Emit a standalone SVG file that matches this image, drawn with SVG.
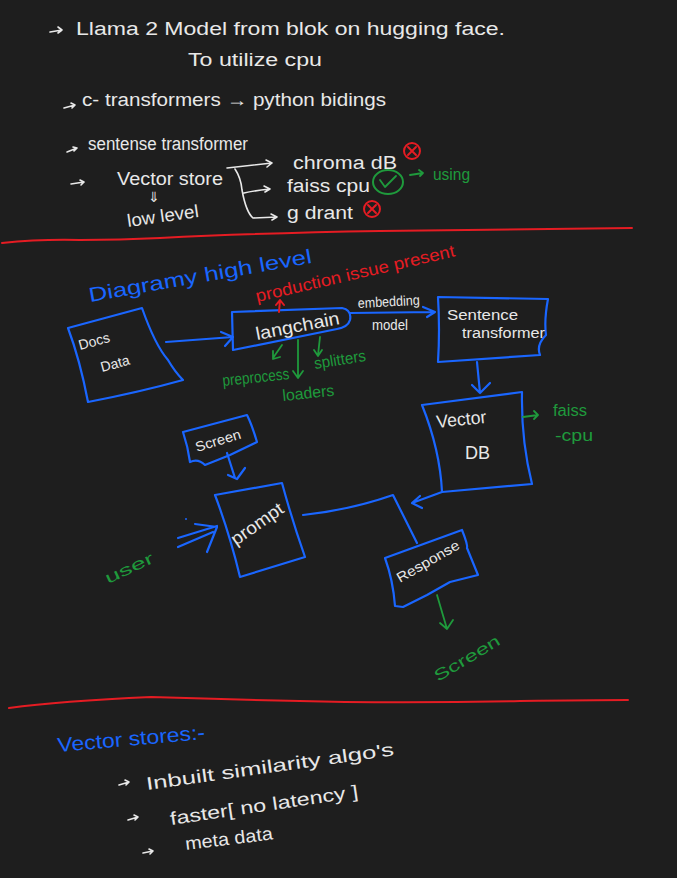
<svg xmlns="http://www.w3.org/2000/svg" width="677" height="878" viewBox="0 0 677 878">
<defs>
<style>
.bg{fill:#1e1e1e}
.w{fill:#e8e8e8;font-family:"Liberation Sans",Arial,sans-serif;font-size:18px}
.ws{fill:#e8e8e8;font-family:"Liberation Sans",Arial,sans-serif;font-size:14px}
.g{fill:#1f9a3c;font-family:"Liberation Sans",Arial,sans-serif;font-size:16px}
.b{fill:#1a66ff;font-family:"Liberation Sans",Arial,sans-serif;font-size:20px}
.r{fill:#e51c23;font-family:"Liberation Sans",Arial,sans-serif;font-size:17px}
.box{fill:none;stroke:#1a66ff;stroke-width:2.2;stroke-linejoin:round;stroke-linecap:round}
.bl{fill:none;stroke:#1a66ff;stroke-width:2.2;stroke-linecap:round;stroke-linejoin:round}
.wl{fill:none;stroke:#e8e8e8;stroke-width:1.6;stroke-linecap:round;stroke-linejoin:round}
.gl{fill:none;stroke:#1f9a3c;stroke-width:1.8;stroke-linecap:round;stroke-linejoin:round}
.rl{fill:none;stroke:#e51c23;stroke-width:2;stroke-linecap:round;stroke-linejoin:round}
</style>
</defs>
<rect class="bg" x="0" y="0" width="677" height="878"/>

<g id="notes-top">
<path class="wl" d="M50 32 L62 30 M58 27 L62 30 L58 33"/>
<text class="w" x="76" y="35" font-size="20" textLength="429" lengthAdjust="spacingAndGlyphs">Llama 2 Model  from blok  on hugging face.</text>
<text class="w" x="188" y="66" textLength="134" lengthAdjust="spacingAndGlyphs">To utilize cpu</text>
<path class="wl" d="M64 108 L75 105 M71 103 L75 105 L72 108"/>
<text class="w" x="82" y="106" font-size="19" textLength="304" lengthAdjust="spacingAndGlyphs">c- transformers →  python bidings</text>
<path class="wl" d="M67 152 L77 148 M73 147 L77 148 L74 151"/>
<text class="w" x="88" y="150" textLength="160" lengthAdjust="spacingAndGlyphs">sentense transformer</text>
<path class="wl" d="M71 184 L84 182 M80 180 L84 182 L81 185"/>
<text class="w" x="117" y="185" textLength="106" lengthAdjust="spacingAndGlyphs">Vector  store</text>
<text class="ws" x="148" y="202">⇓</text>
<text class="w" x="128" y="227" textLength="72" lengthAdjust="spacingAndGlyphs" transform="rotate(-8 128 227)">low level</text>
<path class="wl" d="M227 168 L272 163 M266 160 L272 163 L267 167 M235 169 Q241 178 242 190 Q246 212 253 218 L277 217 M271 214 L277 217 L272 220 M244 193 Q252 191 270 189 M264 186 L270 189 L265 192"/>
<text class="w" x="293" y="169" textLength="104" lengthAdjust="spacingAndGlyphs">chroma dB</text>
<circle cx="412" cy="151" r="8" fill="none" stroke="#e51c23" stroke-width="2"/>
<path class="rl" d="M408 147 L416 155 M416 147 L408 155"/>
<text class="w" x="287" y="192" textLength="83" lengthAdjust="spacingAndGlyphs">faiss cpu</text>
<ellipse cx="388" cy="182" rx="15" ry="12" fill="none" stroke="#1f9a3c" stroke-width="2"/>
<path class="gl" d="M380 180 L385 187 L396 176"/>
<path class="gl" d="M410 175 L423 173 M419 170 L423 173 L420 176"/>
<text class="g" x="433" y="180" textLength="37" lengthAdjust="spacingAndGlyphs">using</text>
<text class="w" x="287" y="219" textLength="66" lengthAdjust="spacingAndGlyphs">g drant</text>
<circle cx="372" cy="209" r="8" fill="none" stroke="#e51c23" stroke-width="2"/>
<path class="rl" d="M368 205 L376 213 M376 205 L368 213"/>
</g>

<g id="separators">
<path class="rl" d="M2 243 Q40 239 80 240 Q120 240 160 238 Q260 233 380 231 Q520 229 632 228"/>
<path class="rl" d="M9 708 Q60 701 151 697 Q250 700 345 702 Q432 703 520 701 Q590 700 628 700"/>
</g>

<text class="b" x="90" y="302" textLength="226" lengthAdjust="spacingAndGlyphs" transform="rotate(-10 90 302)">Diagramy  high  level</text>
<text class="r" x="257" y="302" textLength="204" lengthAdjust="spacingAndGlyphs" transform="rotate(-13 257 302)">production issue present</text>

<g id="docs">
<path class="box" d="M68 328 L142 308 Q155 345 168 360 Q175 372 183 380 Q140 392 88 402 Q80 360 68 328 Z"/>
<text class="ws" x="80" y="350" font-size="15" transform="rotate(-15 80 350)">Docs</text>
<text class="ws" x="102" y="372" font-size="15" transform="rotate(-15 102 372)">Data</text>
</g>

<g id="langchain">
<path class="box" d="M232 312 L342 308 Q352 310 350 320 Q348 327 337 329 L233 350 Z"/>
<text class="w" x="257" y="340" font-size="19" textLength="85" lengthAdjust="spacingAndGlyphs" transform="rotate(-11 257 340)">langchain</text>
</g>

<g id="sentence-transformer">
<path class="box" d="M438 297 L548 299 Q544 320 546 335 Q536 345 540 355 L438 362 Q440 330 438 297 Z"/>
<text class="ws" x="447" y="320" textLength="71" lengthAdjust="spacingAndGlyphs">Sentence</text>
<text class="ws" x="462" y="338" textLength="83" lengthAdjust="spacingAndGlyphs">transformer</text>
</g>

<g id="vector-db">
<path class="box" d="M422 405 L522 392 Q521 440 532 484 L442 492 Q440 450 422 405 Z"/>
<text class="w" x="437" y="428" textLength="50" lengthAdjust="spacingAndGlyphs" transform="rotate(-6 437 428)">Vector</text>
<text class="w" x="465" y="459">DB</text>
</g>

<g id="screen">
<path class="box" d="M183 432 L247 415 Q252 425 257 442 L230 455 L205 465 Q198 458 190 462 Q188 447 183 432 Z"/>
<text class="ws" x="197" y="452" textLength="47" lengthAdjust="spacingAndGlyphs" transform="rotate(-17 197 452)">Screen</text>
</g>

<g id="prompt">
<path class="box" d="M215 495 L282 483 Q292 520 305 557 L240 577 Q230 535 215 495 Z"/>
<text class="w" x="236" y="546" textLength="60" lengthAdjust="spacingAndGlyphs" transform="rotate(-35 236 546)">prompt</text>
</g>

<g id="response">
<path class="box" d="M385 558 L462 530 Q468 545 467 548 L478 575 L450 582 L427 595 L403 607 L395 606 Q393 580 385 558 Z"/>
<text class="ws" x="400" y="583" font-size="15" textLength="70" lengthAdjust="spacingAndGlyphs" transform="rotate(-30 400 583)">Response</text>
</g>

<g id="labels-green">
<text class="g" x="223" y="386" textLength="67" lengthAdjust="spacingAndGlyphs" transform="rotate(-6 223 386)">preprocess</text>
<text class="g" x="315" y="369" textLength="52" lengthAdjust="spacingAndGlyphs" transform="rotate(-9 315 369)">splitters</text>
<text class="g" x="283" y="401" textLength="52" lengthAdjust="spacingAndGlyphs" transform="rotate(-6 283 401)">loaders</text>
<text class="g" x="553" y="416" font-size="17" textLength="34" lengthAdjust="spacingAndGlyphs">faiss</text>
<text class="g" x="555" y="441" font-size="17" textLength="38" lengthAdjust="spacingAndGlyphs">-cpu</text>
<text class="g" x="108" y="584" font-size="19" textLength="52" lengthAdjust="spacingAndGlyphs" transform="rotate(-25 108 584)">user</text>
<text class="g" x="438" y="682" font-size="22" textLength="74" lengthAdjust="spacingAndGlyphs" transform="rotate(-31 438 682)">Screen</text>
</g>

<g id="connectors">
<path class="rl" d="M279 312 L280 300 M276 305 L280 300 L284 305"/>
<path class="bl" d="M166 342 L233 337 M221 332 L233 337 L225 346"/>
<path class="bl" d="M350 313 L435 312 M423 307 L435 312 L427 317"/>
<text class="ws" x="358" y="308" font-size="12" textLength="62" lengthAdjust="spacingAndGlyphs" transform="rotate(-3 358 308)">embedding</text>
<text class="ws" x="372" y="330" font-size="12" textLength="36" lengthAdjust="spacingAndGlyphs">model</text>
<path class="bl" d="M477 362 L480 393 M472 385 L480 393 L490 383"/>
<path class="gl" d="M282 345 L273 358 M273 351 L273 359 L280 357"/>
<path class="gl" d="M298 340 L298 377 M293 371 L298 378 L303 371"/>
<path class="gl" d="M320 337 L318 355 M314 350 L318 356 L322 350"/>
<path class="gl" d="M523 417 L538 415 M534 411 L538 415 L534 419"/>
<path class="bl" d="M442 492 L412 503 M420 496 L412 503 L422 508"/>
<path class="bl" d="M227 453 L235 478 M228 475 L237 479 L245 468"/>
<path class="bl" d="M178 538 L217 526 M178 547 L213 532 M195 524 L217 527 L207 552"/>
<circle cx="186" cy="519" r="1" fill="#1a66ff"/>
<path class="bl" d="M303 515 Q350 510 393 495 L417 543"/>
<path class="gl" d="M437 595 L447 629 M440 623 L447 629 L453 620"/>
</g>

<g id="notes-bottom">
<text class="b" x="58" y="752" font-size="19" textLength="148" lengthAdjust="spacingAndGlyphs" transform="rotate(-5 58 752)">Vector  stores:-</text>
<path class="wl" d="M119 785 L129 782 M125 780 L129 782 L126 785"/>
<text class="w" x="147" y="790" textLength="250" lengthAdjust="spacingAndGlyphs" transform="rotate(-8 147 790)">Inbuilt  similarity  algo's</text>
<path class="wl" d="M128 820 L138 817 M134 815 L138 817 L135 820"/>
<text class="w" x="171" y="825" textLength="190" lengthAdjust="spacingAndGlyphs" transform="rotate(-8.4 171 825)">faster[ no latency ]</text>
<path class="wl" d="M143 853 L153 851 M149 849 L153 851 L150 854"/>
<text class="w" x="186" y="850" textLength="88" lengthAdjust="spacingAndGlyphs" transform="rotate(-7 186 850)">meta data</text>
</g>
</svg>
